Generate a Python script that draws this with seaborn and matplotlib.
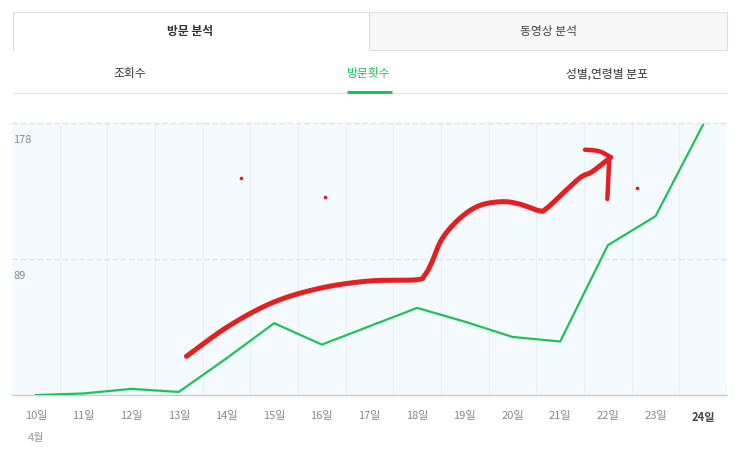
import numpy as np
import pandas as pd
import matplotlib
matplotlib.use('Agg')
import matplotlib.pyplot as plt
from matplotlib.patches import Rectangle
import seaborn as sns

# chart data: daily visits (방문횟수), April 10 - 24
days = ['10일', '11일', '12일', '13일', '14일', '15일', '16일', '17일',
        '18일', '19일', '20일', '21일', '22일', '23일', '24일']
visits = [0, 1, 4, 2, 24, 47, 33, 45, 57, 48, 38, 35, 98, 117, 177]
y_ticks = [89, 178]
month_label = '4월'

# header tabs
main_tabs = ['방문 분석', '동영상 분석']
sub_tabs = ['조회수', '방문횟수', '성별,연령별 분포']

# hand-drawn red scribble on top of the chart (in chart units: day index, value)
scribble_x = [3.16, 4.05, 5.00, 5.98, 6.99, 7.98, 8.16, 8.31, 8.52, 8.88,
              9.30, 9.78, 10.14, 10.56, 10.70, 11.04, 11.43, 11.67, 12.06]
scribble_y = [25.3, 45.2, 60.9, 70.0, 74.6, 75.4, 78.5, 87.0, 102.1, 115.2,
              123.9, 126.5, 125.0, 120.6, 121.7, 131.5, 142.5, 146.1, 155.6]
head_x = [11.52, 11.82, 12.06]
head_y = [160.5, 159.5, 155.6]
stem_x = [12.03, 11.99]
stem_y = [154.9, 128.3]
dots_x = [4.30, 6.07, 12.61]
dots_y = [142.2, 129.4, 135.7]

GREEN = '#1ec25a'
RED = '#e61e1e'

sns.set_style('white')
plt.rcParams['font.family'] = ['Noto Sans CJK KR', 'DejaVu Sans']


def smooth(xs, ys, n=14):
    # catmull-rom through the points
    p = np.column_stack([xs, ys])
    p = np.vstack([p[0], p, p[-1]])
    out = []
    t = np.linspace(0, 1, n, endpoint=False)[:, None]
    for i in range(1, len(p) - 2):
        p0, p1, p2, p3 = p[i - 1], p[i], p[i + 1], p[i + 2]
        seg = 0.5 * (2 * p1 + (-p0 + p2) * t + (2 * p0 - 5 * p1 + 4 * p2 - p3) * t ** 2
                     + (-p0 + 3 * p1 - 3 * p2 + p3) * t ** 3)
        out.append(seg)
    out.append(p[-2][None])
    s = np.vstack(out)
    return s[:, 0], s[:, 1]


W, H = 743, 460
fig = plt.figure(figsize=(W / 100, H / 100), dpi=100)

# header drawn in pixel space
hdr = fig.add_axes([0, 0, 1, 1])
hdr.set_xlim(0, W)
hdr.set_ylim(H, 0)
hdr.axis('off')

border = '#dedede'
hdr.add_patch(Rectangle((369, 13), 358, 38, facecolor='#f7f7f7', edgecolor='none'))
hdr.plot([13, 13, 727, 727], [51, 13, 13, 51], color=border, lw=0.8)
hdr.plot([369, 369], [13, 51], color=border, lw=0.8)
hdr.plot([369, 727], [51, 51], color=border, lw=0.8)
hdr.text(190, 31, main_tabs[0], ha='center', va='center', fontsize=8.5,
         fontweight='bold', color='#333333')
hdr.text(548, 31, main_tabs[1], ha='center', va='center', fontsize=8.5, color='#444444')

sub_x = [130, 369, 607]
for i, (lbl, sx) in enumerate(zip(sub_tabs, sub_x)):
    hdr.text(sx, 74, lbl, ha='center', va='center', fontsize=8.5,
             color=GREEN if i == 1 else '#333333')
hdr.plot([13, 727], [93.5, 93.5], color='#e5e5e5', lw=1)
hdr.plot([347, 392], [93, 93], color=GREEN, lw=2.2, solid_capstyle='butt')

# chart
ax = fig.add_axes([12 / W, (H - 396) / H, 715 / W, 272 / H])
ax.set_facecolor('#f5faff')
df = pd.DataFrame({'day': np.arange(len(days)), 'visits': visits})
sns.lineplot(data=df, x='day', y='visits', ax=ax, color=GREEN, linewidth=1.6, zorder=3)

ax.set_xlim(-0.5, len(days) - 0.5)
ax.set_ylim(0, max(y_ticks))
ax.set_xlabel('')
ax.set_ylabel('')
for s in ['top', 'left', 'right']:
    ax.spines[s].set_visible(False)
ax.spines['bottom'].set_color('#c9cdd2')
ax.spines['bottom'].set_linewidth(1)

ax.set_xticks(np.arange(len(days)))
ax.set_xticklabels(days, fontsize=8, color='#888888')
ax.tick_params(axis='x', length=0, pad=11)
last = ax.get_xticklabels()[-1]
last.set_fontweight('bold')
last.set_color('#444444')
ax.set_xticks(np.arange(len(days) - 1) + 0.5, minor=True)
ax.grid(True, axis='x', which='minor', color='#e6f0f8', lw=0.8)
ax.grid(False, axis='x', which='major')
ax.set_yticks([])

for v in y_ticks:
    ax.axhline(v, color='#dfe4e8', lw=1, ls=(0, (4, 2)), clip_on=False, zorder=1)
    ax.annotate(str(v), xy=(0, v), xycoords=('axes fraction', 'data'),
                xytext=(1, -8), textcoords='offset points', ha='left', va='top',
                fontsize=8, color='#888888')

ax.annotate(month_label, xy=(0, 0), xycoords=('data', 'axes fraction'),
            xytext=(0, -27), textcoords='offset points', ha='center', va='top',
            fontsize=8, color='#999999', annotation_clip=False)

# red scribble
sx, sy = smooth(scribble_x, scribble_y)
ax.plot(sx, sy, color=RED, lw=3.6, solid_capstyle='round', solid_joinstyle='round', zorder=5)
hx, hy = smooth(head_x, head_y, n=8)
ax.plot(hx, hy, color=RED, lw=3.2, solid_capstyle='round', zorder=5)
ax.plot(stem_x, stem_y, color=RED, lw=3.2, solid_capstyle='round', zorder=5)
ax.scatter(dots_x, dots_y, color=RED, s=7, zorder=5, linewidths=0)

fig.savefig('out.png', dpi=100)
